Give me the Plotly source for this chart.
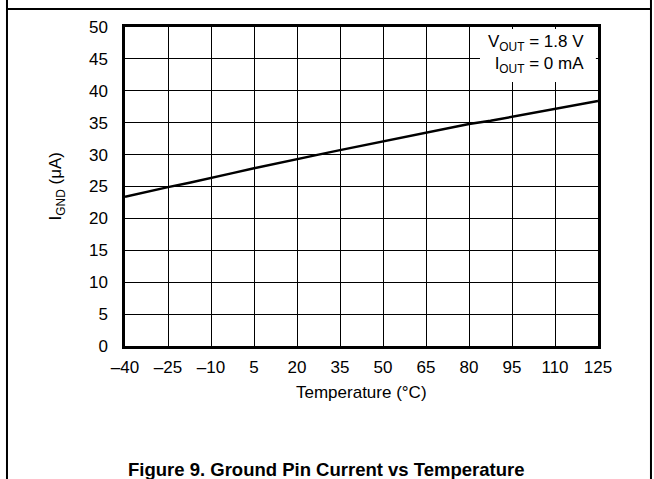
import plotly.graph_objects as go

# Ground pin current vs temperature (VOUT = 1.8 V, IOUT = 0 mA)
temp_c = [-40, -32.5, -25, -17.5, -10, -2.5, 5, 12.5, 20, 27.5, 35, 42.5,
          50, 57.5, 65, 72.5, 80, 87.5, 95, 102.5, 110, 117.5, 125]
ignd_ua = [23.4, 24.2, 24.9, 25.6, 26.4, 27.1, 27.85, 28.6, 29.3, 30.0, 30.7, 31.4,
           32.0, 32.8, 33.5, 34.1, 34.8, 35.3, 35.9, 36.5, 37.1, 37.7, 38.4]

x_ticks = [-40, -25, -10, 5, 20, 35, 50, 65, 80, 95, 110, 125]
x_labels = ["–40", "–25", "–10", "5", "20", "35", "50", "65", "80", "95", "110", "125"]
y_ticks = [0, 5, 10, 15, 20, 25, 30, 35, 40, 45, 50]

FONT = "Liberation Sans, Arial, Helvetica, sans-serif"

fig = go.Figure()
fig.add_trace(go.Scatter(x=temp_c, y=ignd_ua, mode="lines",
                         line=dict(color="black", width=2.5), showlegend=False,
                         hoverinfo="skip"))

axis_common = dict(showgrid=True, gridcolor="black", gridwidth=1,
                   showline=True, linecolor="black", linewidth=2.5, mirror=True,
                   ticks="", zeroline=False, fixedrange=True,
                   tickfont=dict(family=FONT, size=17, color="black"))

fig.update_xaxes(range=[-40, 125], tickvals=x_ticks, ticktext=x_labels,
                 ticklabelstandoff=4, **axis_common)
fig.update_yaxes(range=[0, 50], tickvals=y_ticks, ticklabelstandoff=11, **axis_common)

# white patch behind the conditions text (hides the grid there, keeps the frame)
fig.add_shape(type="rect", xref="paper", yref="paper", x0=0.7505, x1=0.9955,
              y0=0.8276, y1=0.9935, layer="above",
              fillcolor="white", line=dict(width=0))
fig.add_annotation(xref="paper", yref="paper", x=0.975, y=0.99,
                   xanchor="right", yanchor="top", align="right",
                   text="V<sub>OUT</sub> = 1.8 V<br>I<sub>OUT</sub> = 0 mA",
                   showarrow=False,
                   font=dict(family=FONT, size=17, color="black"))

# axis titles
fig.add_annotation(xref="paper", yref="paper", x=-0.144, y=0.5,
                   xanchor="center", yanchor="middle",
                   text="I<sub>GND</sub> (μA)", textangle=-90, showarrow=False,
                   font=dict(family=FONT, size=17, color="black"))
fig.add_annotation(xref="paper", yref="paper", x=0.5, y=-0.145,
                   xanchor="center", yanchor="middle",
                   text="Temperature (°C)", showarrow=False,
                   font=dict(family=FONT, size=17, color="black"))

# figure caption
fig.add_annotation(xref="paper", yref="paper", x=0.426, y=-0.386,
                   xanchor="center", yanchor="middle",
                   text="<b>Figure 9. Ground Pin Current vs Temperature</b>",
                   showarrow=False,
                   font=dict(family=FONT, size=18.5, color="black"))

# cut-off caption of the figure above
fig.add_annotation(xref="paper", yref="paper", x=0.426, y=1.085,
                   xanchor="center", yanchor="bottom",
                   text="<b>Figure 8. Ground Pin Current vs Input Voltage</b>",
                   showarrow=False,
                   font=dict(family=FONT, size=18.5, color="black"))

# page frame
fig.add_shape(type="line", xref="paper", yref="paper", x0=-0.2495, x1=-0.2495,
              y0=1.09, y1=-0.45, line=dict(color="black", width=2))
fig.add_shape(type="line", xref="paper", yref="paper", x0=1.112, x1=1.112,
              y0=1.09, y1=-0.45, line=dict(color="black", width=2))
fig.add_shape(type="line", xref="paper", yref="paper", x0=-0.2495, x1=1.112,
              y0=1.0564, y1=1.0564, line=dict(color="black", width=2))

fig.update_layout(width=654, height=479,
                  margin=dict(l=125, r=56, t=27, b=133),
                  paper_bgcolor="white", plot_bgcolor="white",
                  font=dict(family=FONT, color="black"))

# drop the default body margin so the figure sits at the page's top-left corner
fig.write_html("out.html", config={"displayModeBar": False},
               post_script="document.body.style.margin='0';"
                           "document.body.style.overflow='hidden';")
